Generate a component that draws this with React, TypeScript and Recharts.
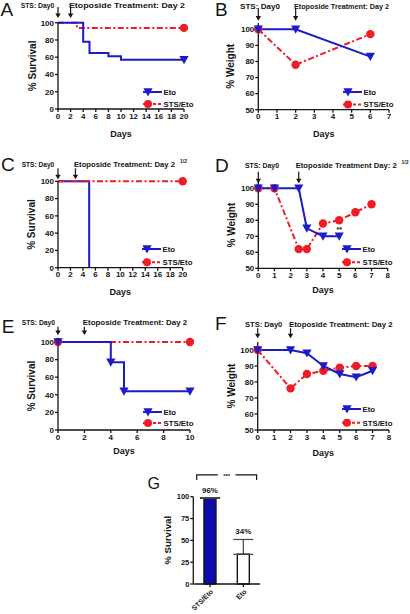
import React from 'react';
import {
  Bar,
  BarChart,
  Cell,
  ErrorBar,
  Legend,
  Line,
  LineChart,
  ReferenceDot,
  ReferenceLine,
  XAxis,
  YAxis,
} from 'recharts';

const BLUE = '#1b1bc9';
const RED = '#ee1c24';
const BAR_BLUE = '#0c0cb0';
const INK = '#151515';
const FONT = '"Liberation Sans", Arial, Helvetica, sans-serif';

// A: survival, etoposide on day 2
const aEtoDays = [0, 4, 5, 8, 10, 20];
const aEtoSurvival = [100, 78, 65, 61, 57, 57];
const aEtoMarks = [0, 0, 0, 0, 0, 1];
const aStsDays = [0, 3, 20];
const aStsSurvival = [100, 94, 94];
const aStsMarks = [0, 0, 1];

// B: weight
const bDays = [0, 2, 6];
const bEtoWeight = [100, 100, 83];
const bStsWeight = [100, 78, 97];

// C: survival, etoposide on day 2 1/2
const cEtoDays = [0, 5];
const cEtoSurvival = [100, 0];
const cEtoMarks = [0, 0];
const cStsDays = [0, 20];
const cStsSurvival = [100, 100];
const cStsMarks = [0, 1];

// D: weight
const dEtoDays = [0, 1, 2.5, 3, 4, 5];
const dEtoWeight = [100, 100, 100, 75, 70, 70];
const dStsDays = [0, 1, 2.5, 3, 4, 5, 6, 7];
const dStsWeight = [100, 100, 62, 62, 78, 80, 85, 90];

// E: survival
const eEtoDays = [0, 4, 5, 10];
const eEtoSurvival = [100, 77, 44, 44];
const eStsDays = [0, 10];
const eStsSurvival = [100, 100];

// F: weight
const fDays = [0, 2, 3, 4, 5, 6, 7];
const fEtoWeight = [100, 100, 98, 90, 85, 83, 87];
const fStsWeight = [100, 76, 85, 87, 89, 90, 90];

// G: pooled survival
const gGroups = ['STS/Eto', 'Eto'];
const gSurvival = [98, 34];
const gErrUp = [1, 17];
const gLabels = ['96%', '34%'];
const gFills = [BAR_BLUE, '#ffffff'];

const days20 = [0, 2, 4, 6, 8, 10, 12, 14, 16, 18, 20];
const days10 = [0, 2, 4, 6, 8, 10];
const days7 = [0, 1, 2, 3, 4, 5, 6, 7];
const days8 = [0, 1, 2, 3, 4, 5, 6, 7, 8];
const survTicks = [0, 20, 40, 60, 80, 100];
const weightTicks = [50, 60, 70, 80, 90, 100];
const gTicks = [0, 25, 50, 75, 100];

type Row = { d: number; v: number; m: number };
const toRows = (days: number[], vals: number[], marks?: number[]): Row[] =>
  days.map((d, i) => ({ d, v: vals[i], m: marks ? marks[i] : 1 }));

type Series = { name: string; rows: Row[]; color: string; dash?: string; step?: boolean; shape: 'tri' | 'dot' };
type PanelCfg = {
  left: number;
  top: number;
  width: number;
  height: number;
  margin: [number, number, number]; // top, right, bottom
  yAxisWidth: number;
  xAxisHeight: number;
  xDomain: [number, number];
  xTicks: number[];
  yDomain: [number, number];
  yTicks: number[];
  yLabel: string;
  yLabelX: number;
  series: Series[];
  arrows: number[];
  arrowY: [number, number];
  legend: [number, number, number]; // x, y, gap
  note?: { x: number; y: number; text: string };
};

const DASH = '6 2.5 2 2.5';

const eto = (rows: Row[], step = false): Series => ({ name: 'Eto', rows, color: BLUE, step, shape: 'tri' });
const sts = (rows: Row[], step = false): Series => ({ name: 'STS/Eto', rows, color: RED, dash: DASH, step, shape: 'dot' });

const panels: PanelCfg[] = [
  {
    left: 0, top: 0, width: 205, height: 150, margin: [22.7, 21, 13.5], yAxisWidth: 58, xAxisHeight: 27.5,
    xDomain: [0, 20], xTicks: days20, yDomain: [0, 100], yTicks: survTicks, yLabel: '% Survival', yLabelX: 32,
    series: [sts(toRows(aStsDays, aStsSurvival, aStsMarks), true), eto(toRows(aEtoDays, aEtoSurvival, aEtoMarks), true)],
    arrows: [0, 2], arrowY: [7, 18], legend: [143, 92, 12],
  },
  {
    left: 205, top: 0, width: 205, height: 150, margin: [22.9, 21, 13.4], yAxisWidth: 53.3, xAxisHeight: 26.9,
    xDomain: [0, 7], xTicks: days7, yDomain: [50, 104], yTicks: weightTicks, yLabel: '% Weight', yLabelX: 25,
    series: [sts(toRows(bDays, bStsWeight)), eto(toRows(bDays, bEtoWeight))],
    arrows: [0, 2], arrowY: [8.3, 20.7], legend: [138, 91.7, 12.6],
  },
  {
    left: 0, top: 150, width: 205, height: 150, margin: [31.3, 22.3, 5], yAxisWidth: 58, xAxisHeight: 27.3,
    xDomain: [0, 20], xTicks: days20, yDomain: [0, 100], yTicks: survTicks, yLabel: '% Survival', yLabelX: 31.7,
    series: [eto(toRows(cEtoDays, cEtoSurvival, cEtoMarks), true), sts(toRows(cStsDays, cStsSurvival, cStsMarks), true)],
    arrows: [0, 2.8], arrowY: [18.3, 29.3], legend: [141.7, 99, 13.3],
  },
  {
    left: 205, top: 150, width: 205, height: 150, margin: [31.9, 22.3, 6.7], yAxisWidth: 53.3, xAxisHeight: 25,
    xDomain: [0, 8], xTicks: days8, yDomain: [50, 104], yTicks: weightTicks, yLabel: '% Weight', yLabelX: 26.7,
    series: [sts(toRows(dStsDays, dStsWeight)), eto(toRows(dEtoDays, dEtoWeight))],
    arrows: [0, 2.5], arrowY: [21.7, 33.3], legend: [137.3, 99, 13.3],
    note: { x: 5, y: 74.5, text: '**' },
  },
  {
    left: 0, top: 300, width: 205, height: 158, margin: [42, 15, 3.7], yAxisWidth: 58, xAxisHeight: 24.3,
    xDomain: [0, 10], xTicks: days10, yDomain: [0, 100], yTicks: survTicks, yLabel: '% Survival', yLabelX: 31.7,
    series: [sts(toRows(eStsDays, eStsSurvival), true), eto(toRows(eEtoDays, eEtoSurvival), true)],
    arrows: [0, 2], arrowY: [26.7, 35], legend: [143.3, 111.7, 11],
  },
  {
    left: 205, top: 300, width: 205, height: 158, margin: [42, 21, 1.7], yAxisWidth: 52.7, xAxisHeight: 26.3,
    xDomain: [0, 8], xTicks: days8, yDomain: [50, 105], yTicks: weightTicks, yLabel: '% Weight', yLabelX: 26.7,
    series: [sts(toRows(fDays, fStsWeight)), eto(toRows(fDays, fEtoWeight))],
    arrows: [0, 2], arrowY: [28.3, 38.3], legend: [137.3, 109, 13.7],
  },
];

// headings drawn over the panels (page coordinates)
const headings = [
  { t: 'STS: Day0', x: 20.7, y: 8.3, len: 33.6 },
  { t: 'Etoposide Treatment: Day 2', x: 69, y: 8.3, len: 116 },
  { t: 'STS: Day0', x: 240, y: 8.5, len: 40 },
  { t: 'Etoposide Treatment: Day 2', x: 294, y: 8.5, len: 95 },
  { t: 'STS: Day0', x: 21.7, y: 167, len: 32.6 },
  { t: 'Etoposide Treatment: Day 2', x: 74, y: 167, len: 101 },
  { t: 'STS: Day0', x: 245, y: 168, len: 34 },
  { t: 'Etoposide Treatment Day: 2', x: 295.7, y: 168, len: 101 },
  { t: 'STS: Day0', x: 21.7, y: 324.6, len: 33.3 },
  { t: 'Etoposide Treatment: Day 2', x: 82.7, y: 324.6, len: 104.6 },
  { t: 'STS: Day0', x: 245, y: 327, len: 37.3 },
  { t: 'Etoposide Treatment: Day 2', x: 289, y: 327, len: 103.7 },
];
const supers = [
  { t: '1/2', x: 180, y: 163 },
  { t: '1/2', x: 401.5, y: 163.5 },
];
const letters = [
  { t: 'A', x: 0.6, y: 15.5, s: 19 },
  { t: 'B', x: 215, y: 15.5, s: 19 },
  { t: 'C', x: 1, y: 170.7, s: 19 },
  { t: 'D', x: 215, y: 171.7, s: 19 },
  { t: 'E', x: 1.7, y: 332.7, s: 19 },
  { t: 'F', x: 215, y: 330, s: 19 },
  { t: 'G', x: 147.5, y: 489, s: 16 },
];

const tickStyle = { fill: INK, fontSize: 8, fontWeight: 700, fontFamily: FONT };
const axisStyle = { stroke: INK, strokeWidth: 1.3 };
const labelStyle = (size: number) => ({ fill: INK, fontSize: size, fontWeight: 700, fontFamily: FONT });

function Tri({ cx, cy, color }: { cx: number; cy: number; color: string }) {
  return <path d={`M${cx - 4.6},${cy - 3.8}L${cx + 4.6},${cy - 3.8}L${cx},${cy + 4.4}Z`} fill={color} />;
}

const markerFor = (s: Series) => (p: any) => {
  const k = `m${p.index}`;
  if (!p.payload?.m || p.cx == null || p.cy == null) return <g key={k} />;
  return s.shape === 'tri' ? (
    <g key={k}><Tri cx={p.cx} cy={p.cy} color={s.color} /></g>
  ) : (
    <circle key={k} cx={p.cx} cy={p.cy} r={4.2} fill={s.color} />
  );
};

function Arrow({ x, y1, y2 }: { x: number; y1: number; y2: number }) {
  return (
    <g>
      <line x1={x} y1={y1} x2={x} y2={y2 - 3} stroke={INK} strokeWidth={1.2} />
      <path d={`M${x - 2.7},${y2 - 4.6}L${x + 2.7},${y2 - 4.6}L${x},${y2}Z`} fill={INK} />
    </g>
  );
}

function KeyBox({ series, gap }: { series: Series[]; gap: number }) {
  const order = [...series].sort((a, b) => a.name.localeCompare(b.name));
  return (
    <svg width={70} height={gap + 12} style={{ display: 'block', overflow: 'visible' }}>
      {order.map((s, i) => {
        const y = 5 + i * gap;
        return (
          <g key={s.name}>
            <line x1={0} y1={y} x2={19} y2={y} stroke={s.color} strokeWidth={2} strokeDasharray={s.dash ? '3 2' : undefined} />
            {s.shape === 'tri' ? <Tri cx={5} cy={y} color={s.color} /> : <circle cx={5} cy={y} r={4} fill={s.color} />}
            <text x={20.5} y={y + 2.8} fontSize={7.8} fontWeight={700} fontFamily={FONT} fill={INK}>
              {s.name}
            </text>
          </g>
        );
      })}
    </svg>
  );
}

function Panel({ cfg }: { cfg: PanelCfg }) {
  const [mt, mr, mb] = cfg.margin;
  return (
    <div style={{ position: 'absolute', left: cfg.left, top: cfg.top }}>
      <LineChart width={cfg.width} height={cfg.height} margin={{ top: mt, right: mr, bottom: mb, left: 0 }}>
        <XAxis
          type="number"
          dataKey="d"
          domain={cfg.xDomain}
          ticks={cfg.xTicks}
          interval={0}
          height={cfg.xAxisHeight}
          tickSize={3}
          tickMargin={1}
          tick={tickStyle}
          axisLine={axisStyle}
          tickLine={axisStyle}
          label={{ value: 'Days', position: 'insideBottom', offset: 0, style: labelStyle(9) }}
        />
        <YAxis
          type="number"
          dataKey="v"
          domain={cfg.yDomain}
          ticks={cfg.yTicks}
          interval={0}
          width={cfg.yAxisWidth}
          tickSize={3}
          tickMargin={1}
          tick={tickStyle}
          axisLine={axisStyle}
          tickLine={axisStyle}
          label={{
            value: cfg.yLabel,
            angle: -90,
            position: 'insideLeft',
            offset: cfg.yLabelX,
            style: { ...labelStyle(10), textAnchor: 'middle' },
          }}
        />
        {cfg.series.map((s) => (
          <Line
            key={s.name}
            data={s.rows}
            dataKey="v"
            name={s.name}
            type={s.step ? 'stepAfter' : 'linear'}
            stroke={s.color}
            strokeWidth={2}
            strokeDasharray={s.dash}
            dot={markerFor(s)}
            activeDot={false}
            isAnimationActive={false}
          />
        ))}
        {cfg.arrows.map((a) => (
          <ReferenceDot
            key={`arrow${a}`}
            x={a}
            y={cfg.yDomain[1]}
            ifOverflow="visible"
            shape={(p: any) => <Arrow x={p.cx} y1={cfg.arrowY[0]} y2={cfg.arrowY[1]} />}
          />
        ))}
        {cfg.note && (
          <ReferenceDot
            x={cfg.note.x}
            y={cfg.note.y}
            r={1}
            fill="none"
            stroke="none"
            ifOverflow="visible"
            label={{ value: cfg.note.text, position: 'center', style: labelStyle(7) }}
          />
        )}
        <Legend
          layout="horizontal"
          verticalAlign="middle"
          align="center"
          wrapperStyle={{ left: cfg.legend[0], top: cfg.legend[1] - 5, width: 70, height: 32 }}
          content={() => <KeyBox series={cfg.series} gap={cfg.legend[2]} />}
        />
      </LineChart>
    </div>
  );
}

function Bracket(p: any) {
  const l = p.x1 - 13.3;
  const r = p.x2 + 13.3;
  const mid = (l + r) / 2;
  const y = p.y1;
  return (
    <g>
      <path
        d={`M${l},${y + 5}V${y}H${mid - 8.8}M${mid + 8.8},${y}H${r}V${y + 5}`}
        stroke={INK}
        strokeWidth={1.2}
        fill="none"
      />
      <text x={mid} y={y + 3.6} textAnchor="middle" fontSize={6} fontWeight={700} fontFamily={FONT} fill={INK}>
        ***
      </text>
    </g>
  );
}

function SlantTick(p: any) {
  const x = p.x + 1.5;
  const y = p.y + 2;
  return (
    <text
      x={x}
      y={y}
      transform={`rotate(-45 ${x} ${y})`}
      textAnchor="end"
      dy={3}
      fontSize={7}
      fontWeight={700}
      fontFamily={FONT}
      fill={INK}
    >
      {p.payload.value}
    </text>
  );
}

function PanelG() {
  const rows = gGroups.map((g, i) => ({ g, v: gSurvival[i], e: [0, gErrUp[i]] }));
  return (
    <div style={{ position: 'absolute', left: 140, top: 460 }}>
      <BarChart width={130} height={154} data={rows} margin={{ top: 36.7, right: 10, bottom: 0, left: 0 }} barCategoryGap="32%">
        <XAxis
          dataKey="g"
          height={30}
          interval={0}
          tickSize={3}
          tickMargin={1}
          axisLine={axisStyle}
          tickLine={axisStyle}
          tick={<SlantTick />}
        />
        <YAxis
          type="number"
          domain={[0, 100]}
          ticks={gTicks}
          interval={0}
          width={53.3}
          tickSize={3}
          tickMargin={1}
          tick={{ ...tickStyle, fontSize: 7.5 }}
          axisLine={axisStyle}
          tickLine={axisStyle}
          label={{
            value: '% Survival',
            angle: -90,
            position: 'insideLeft',
            offset: 28,
            style: { ...labelStyle(9.7), textAnchor: 'middle' },
          }}
        />
        <Bar dataKey="v" stroke={INK} strokeWidth={1.4} isAnimationActive={false}>
          {rows.map((r, i) => (
            <Cell key={r.g} fill={gFills[i]} />
          ))}
          <ErrorBar dataKey="e" width={10} stroke="#444" strokeWidth={1.2} />
        </Bar>
        {rows.map((r, i) => (
          <ReferenceDot
            key={`lab${r.g}`}
            x={r.g}
            y={r.v + gErrUp[i]}
            r={1}
            fill="none"
            stroke="none"
            ifOverflow="visible"
            label={{ value: gLabels[i], position: 'top', offset: 4, style: labelStyle(8) }}
          />
        ))}
        <ReferenceLine
          segment={[
            { x: gGroups[0], y: 125 },
            { x: gGroups[1], y: 125 },
          ]}
          ifOverflow="visible"
          shape={(p: any) => <Bracket {...p} />}
        />
      </BarChart>
    </div>
  );
}

export default function App() {
  return (
    <div style={{ position: 'absolute', left: 0, top: 0, width: 410, height: 614, background: '#fff', fontFamily: FONT }}>
      {panels.map((cfg, i) => (
        <Panel key={i} cfg={cfg} />
      ))}
      <PanelG />
      <svg width={410} height={614} style={{ position: 'absolute', left: 0, top: 0, pointerEvents: 'none' }}>
        {headings.map((h, i) => (
          <text
            key={`h${i}`}
            x={h.x}
            y={h.y}
            fontSize={7.5}
            fontWeight={700}
            fontFamily={FONT}
            fill={INK}
            textLength={h.len}
            lengthAdjust="spacingAndGlyphs"
          >
            {h.t}
          </text>
        ))}
        {supers.map((s, i) => (
          <text key={`s${i}`} x={s.x} y={s.y} fontSize={5} fontWeight={700} fontFamily={FONT} fill={INK}>
            {s.t}
          </text>
        ))}
        {letters.map((l) => (
          <text key={l.t} x={l.x} y={l.y} fontSize={l.s} fontFamily={FONT} fill={INK}>
            {l.t}
          </text>
        ))}
      </svg>
    </div>
  );
}
